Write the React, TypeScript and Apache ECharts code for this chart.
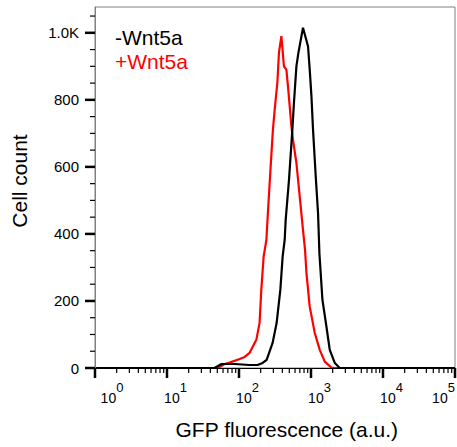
import React, { useEffect, useRef } from "react";
import * as echarts from "echarts";

// -Wnt5a histogram (GFP fluorescence, counts)
const blackX = [1, 45.7, 57.2, 86.8, 140, 181, 213, 242, 293, 333, 375, 404, 431, 445, 495, 551, 580, 627, 668, 774, 909, 960, 1014, 1067, 1163, 1252, 1310, 1442, 1639, 1822, 2138, 2509, 100000];
const blackY = [0, 0, 12, 12, 9, 9, 15, 24, 75, 134, 233, 333, 382, 442, 562, 711, 792, 900, 940, 1015, 960, 890, 811, 711, 572, 463, 340, 203, 123, 54, 15, 0, 0];

// +Wnt5a histogram
const redX = [1, 45.7, 53.7, 63, 73.9, 102, 120, 140, 174, 193, 204, 220, 240, 252, 272, 290, 296, 313, 341, 359, 388, 421, 455, 479, 506, 534, 562, 627, 697, 774, 826, 864, 960, 1127, 1322, 1552, 1924, 2138, 100000];
const redY = [0, 0, 3, 12, 16, 27, 33, 45, 84, 134, 233, 333, 382, 463, 583, 681, 711, 771, 851, 941, 990, 900, 890, 840, 781, 721, 681, 612, 512, 412, 353, 284, 183, 105, 54, 19, 1, 0, 0];

const xMajorTicks = [1, 10, 100, 1000, 10000, 100000];
const xMinorTicks = [2, 3, 4, 5, 6, 7, 8, 9, 20, 30, 40, 50, 60, 70, 80, 90, 200, 300, 400, 500, 600, 700, 800, 900, 2000, 3000, 4000, 5000, 6000, 7000, 8000, 9000, 20000, 30000, 40000, 50000, 60000, 70000, 80000, 90000];
const yMajorTicks = [0, 200, 400, 600, 800, 1000];
const yMinorTicks = [50, 100, 150, 250, 300, 350, 450, 500, 550, 650, 700, 750, 850, 900, 950, 1050];

const legendLabels = ["-Wnt5a", "+Wnt5a"];
const xTitle = "GFP fluorescence (a.u.)";
const yTitle = "Cell count";

const X_MIN = 1;
const X_MAX = 100000;
const Y_MIN = 0;
const Y_MAX = 1077;

const FONT = '"Liberation Sans", Arial, Helvetica, sans-serif';

function tickSeries(data: number[][], dx: number, dy: number, width: number) {
  return {
    type: "custom",
    coordinateSystem: "cartesian2d",
    data,
    encode: { x: 0, y: 1 },
    clip: false,
    silent: true,
    z: 6,
    renderItem: (params: any, api: any) => {
      const p = api.coord([api.value(0), api.value(1)]);
      return {
        type: "line",
        shape: { x1: p[0], y1: p[1], x2: p[0] + dx, y2: p[1] + dy },
        style: { stroke: "#000", lineWidth: width },
      };
    },
  };
}

export default function App() {
  const ref = useRef<HTMLDivElement>(null);
  useEffect(() => {
    if (!ref.current) return;
    const chart = echarts.init(ref.current, undefined, { renderer: "svg" });
    const blackData = blackX.map((x, i) => [x, blackY[i]]);
    const redData = redX.map((x, i) => [x, redY[i]]);
    const option: any = {
      animation: false,
      backgroundColor: "#ffffff",
      textStyle: { fontFamily: FONT },
      grid: {
        left: 95,
        top: 7,
        right: 2,
        bottom: 79,
        containLabel: false,
        outerBoundsMode: "none",
        show: true,
        borderColor: "#808080",
        borderWidth: 1,
        backgroundColor: "transparent",
      },
      xAxis: {
        type: "log",
        logBase: 10,
        min: X_MIN,
        max: X_MAX,
        position: "bottom",
        z: 5,
        axisLine: { show: true, lineStyle: { color: "#000", width: 1 } },
        axisTick: { show: false },
        axisLabel: {
          show: true,
          customValues: xMajorTicks,
          showMinLabel: true,
          showMaxLabel: true,
          margin: 13,
          align: "center",
          color: "#000",
          formatter: (v: number) => {
            const e = Math.round(Math.log10(v));
            if (e === 0) return `{spf|}{b|10}{s|${e}}`;
            if (e === 5) return `{b|10}{s|${e}}{spr|}`;
            return `{sp|}{b|10}{s|${e}}`;
          },
          rich: {
            b: { fontSize: 14, fontFamily: FONT, color: "#000", verticalAlign: "bottom" },
            s: { fontSize: 13, fontFamily: FONT, color: "#000", verticalAlign: "bottom", padding: [0, 0, 11, 0] },
            sp: { width: 17 },
            spf: { width: 34 },
            spr: { width: 23 },
          },
        },
        splitLine: { show: false },
      },
      yAxis: {
        type: "value",
        min: Y_MIN,
        max: Y_MAX,
        position: "left",
        z: 5,
        axisLine: { show: true, lineStyle: { color: "#808080", width: 1 } },
        axisTick: { show: false },
        axisLabel: {
          show: true,
          customValues: yMajorTicks,
          margin: 16,
          fontSize: 15,
          fontFamily: FONT,
          color: "#000",
          formatter: (v: number) => (v >= 1000 ? (v / 1000).toFixed(1) + "K" : String(v)),
        },
        splitLine: { show: false },
      },
      series: [
        {
          name: legendLabels[1],
          type: "line",
          data: redData,
          showSymbol: false,
          symbol: "none",
          lineStyle: { color: "#ff0000", width: 2.2 },
          itemStyle: { color: "#ff0000" },
          z: 3,
        },
        {
          name: legendLabels[0],
          type: "line",
          data: blackData,
          showSymbol: false,
          symbol: "none",
          lineStyle: { color: "#000000", width: 2.2 },
          itemStyle: { color: "#000000" },
          z: 4,
        },
        tickSeries(xMajorTicks.map((v) => [v, Y_MIN]), 0, 10, 2.5),
        tickSeries(xMinorTicks.map((v) => [v, Y_MIN]), 0, 5, 1.2),
        tickSeries(yMajorTicks.map((v) => [X_MIN, v]), -10, 0, 2.5),
        tickSeries(yMinorTicks.map((v) => [X_MIN, v]), -5, 0, 1.2),
      ],
      graphic: [
        {
          type: "text",
          x: 115,
          y: 37.7,
          style: { text: legendLabels[0], fill: "#000", fontSize: 21, fontFamily: FONT, align: "left", verticalAlign: "middle", textAlign: "left", textVerticalAlign: "middle" },
        },
        {
          type: "text",
          x: 115,
          y: 61,
          style: { text: legendLabels[1], fill: "#ff0000", fontSize: 21, fontFamily: FONT, align: "left", verticalAlign: "middle", textAlign: "left", textVerticalAlign: "middle" },
        },
        {
          type: "text",
          x: 286.8,
          y: 429.4,
          style: { text: xTitle, fill: "#000", fontSize: 21, fontFamily: FONT, align: "center", verticalAlign: "middle", textAlign: "center", textVerticalAlign: "middle" },
        },
        {
          type: "text",
          x: 19.4,
          y: 181,
          rotation: Math.PI / 2,
          style: { text: yTitle, fill: "#000", fontSize: 21, fontFamily: FONT, align: "center", verticalAlign: "middle", textAlign: "center", textVerticalAlign: "middle" },
        },
      ],
    };
    chart.setOption(option);
    return () => chart.dispose();
  }, []);
  return <div ref={ref} style={{ width: 457, height: 447, position: "absolute", left: 0, top: 0 }} />;
}
